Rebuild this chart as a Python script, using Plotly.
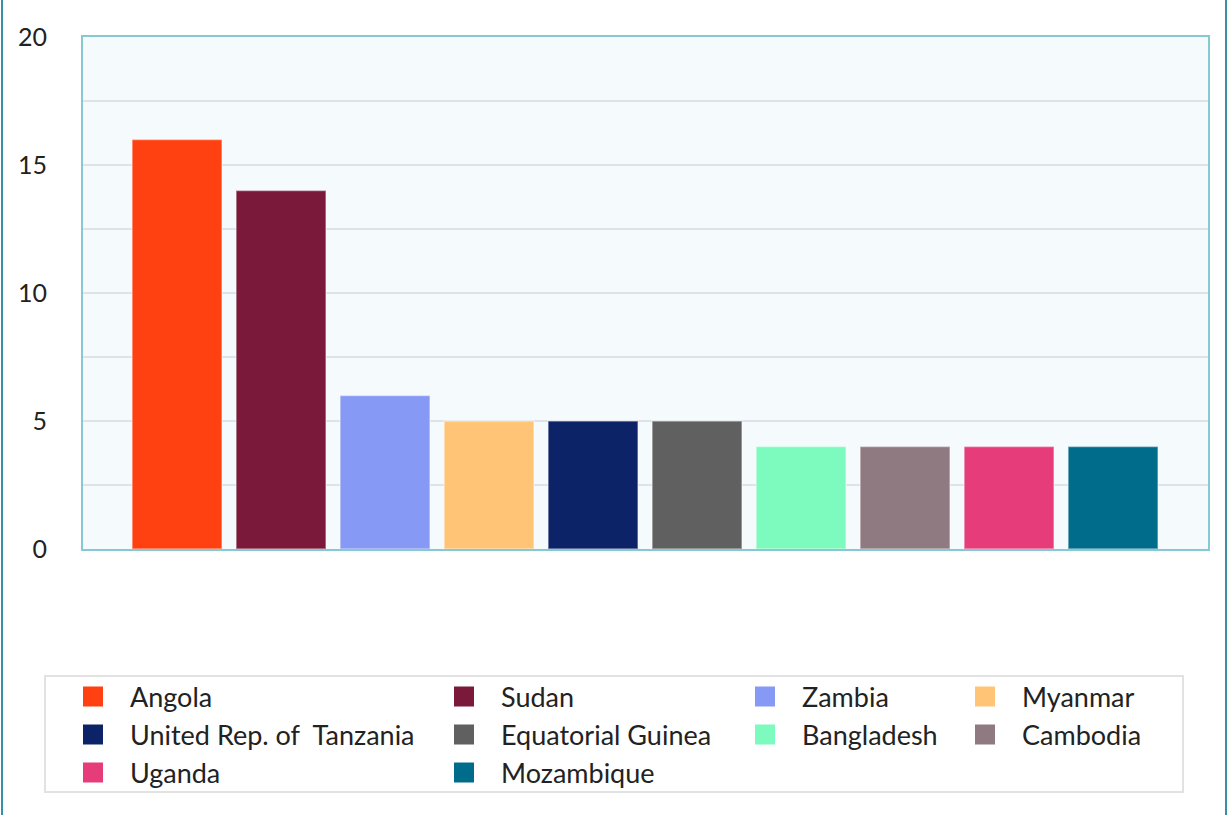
import plotly.graph_objects as go

# ---- data ----
countries = ["Angola", "Sudan", "Zambia", "Myanmar", "United Rep. of  Tanzania",
             "Equatorial Guinea", "Bangladesh", "Cambodia", "Uganda", "Mozambique"]
values = [16, 14, 6, 5, 5, 5, 4, 4, 4, 4]
colors = ["#ff4112", "#7a193a", "#8599f5", "#ffc476", "#0c2368",
          "#606060", "#7dfabe", "#8f7a82", "#e63c7a", "#006c8c"]
y_ticks = [0, 5, 10, 15, 20]

W, H = 1228, 815
L, R, T, B = 83, 20, 37, 266
PW = W - L - R
PH = H - T - B


def px_x(p):
    return (p - L) / PW


def px_y(p):
    return (H - B - p) / PH


FONT = "Lato, 'Gill Sans', sans-serif"

fig = go.Figure()
fig.add_trace(go.Bar(
    x=list(range(len(countries))), y=values,
    marker=dict(color=colors, line=dict(width=1.5, color="rgba(255,255,255,0.45)")),
    width=0.865, showlegend=False, hoverinfo="skip",
))

col_start = [56, 427, 728, 948]
row_center = [697, 735, 773]
legends = {}
for i, (name, c) in enumerate(zip(countries, colors)):
    key = "legend" if i == 0 else f"legend{i + 1}"
    fig.add_trace(go.Scatter(
        x=[None], y=[None], mode="markers", name=name,
        marker=dict(symbol="square", size=16, color=c, line=dict(color=c, width=4)),
        legend=key, showlegend=True,
    ))
    r, cidx = divmod(i, 4)
    legends[key] = dict(
        x=px_x(col_start[cidx]), y=px_y(row_center[r]),
        xanchor="left", yanchor="middle",
        bgcolor="rgba(0,0,0,0)", borderwidth=0,
        itemwidth=64, font=dict(family=FONT, size=27, color="#222222"),
    )

fig.update_layout(
    width=W, height=H,
    margin=dict(l=L, r=R, t=T, b=B),
    paper_bgcolor="white", plot_bgcolor="#f5fafd",
    barmode="overlay",
    font=dict(family=FONT, size=22, color="#222222"),
    xaxis=dict(range=[-0.904, 9.913], showticklabels=False, showgrid=False,
               zeroline=False, showline=True, mirror=True,
               linecolor="#86c9d3", linewidth=2, ticks=""),
    yaxis=dict(range=[0, 20], tickvals=y_ticks, ticktext=[str(v) for v in y_ticks],
               showgrid=True, gridcolor="#dde3e6", gridwidth=1.5,
               minor=dict(dtick=2.5, tick0=0, showgrid=True, gridcolor="#dde3e6", gridwidth=1.5),
               zeroline=False, showline=True, mirror=True,
               linecolor="#86c9d3", linewidth=2, ticks="",
               ticklabelstandoff=29,
               tickfont=dict(family=FONT, size=25, color="#222222")),
    **legends,
    shapes=[
        dict(type="rect", xref="paper", yref="paper",
             x0=px_x(45), x1=px_x(1183), y0=px_y(792), y1=px_y(676),
             line=dict(color="#e2e2e2", width=2), fillcolor="rgba(0,0,0,0)", layer="below"),
        dict(type="line", xref="paper", yref="paper",
             x0=px_x(2), x1=px_x(2), y0=px_y(815), y1=px_y(0),
             line=dict(color="#3a8fa8", width=2)),
        dict(type="line", xref="paper", yref="paper",
             x0=px_x(1226), x1=px_x(1226), y0=px_y(815), y1=px_y(0),
             line=dict(color="#3a8fa8", width=2)),
    ],
)

fig.write_html("out.html", config={"displayModeBar": False},
               post_script="document.body.style.margin='0';document.body.style.overflow='hidden';")
